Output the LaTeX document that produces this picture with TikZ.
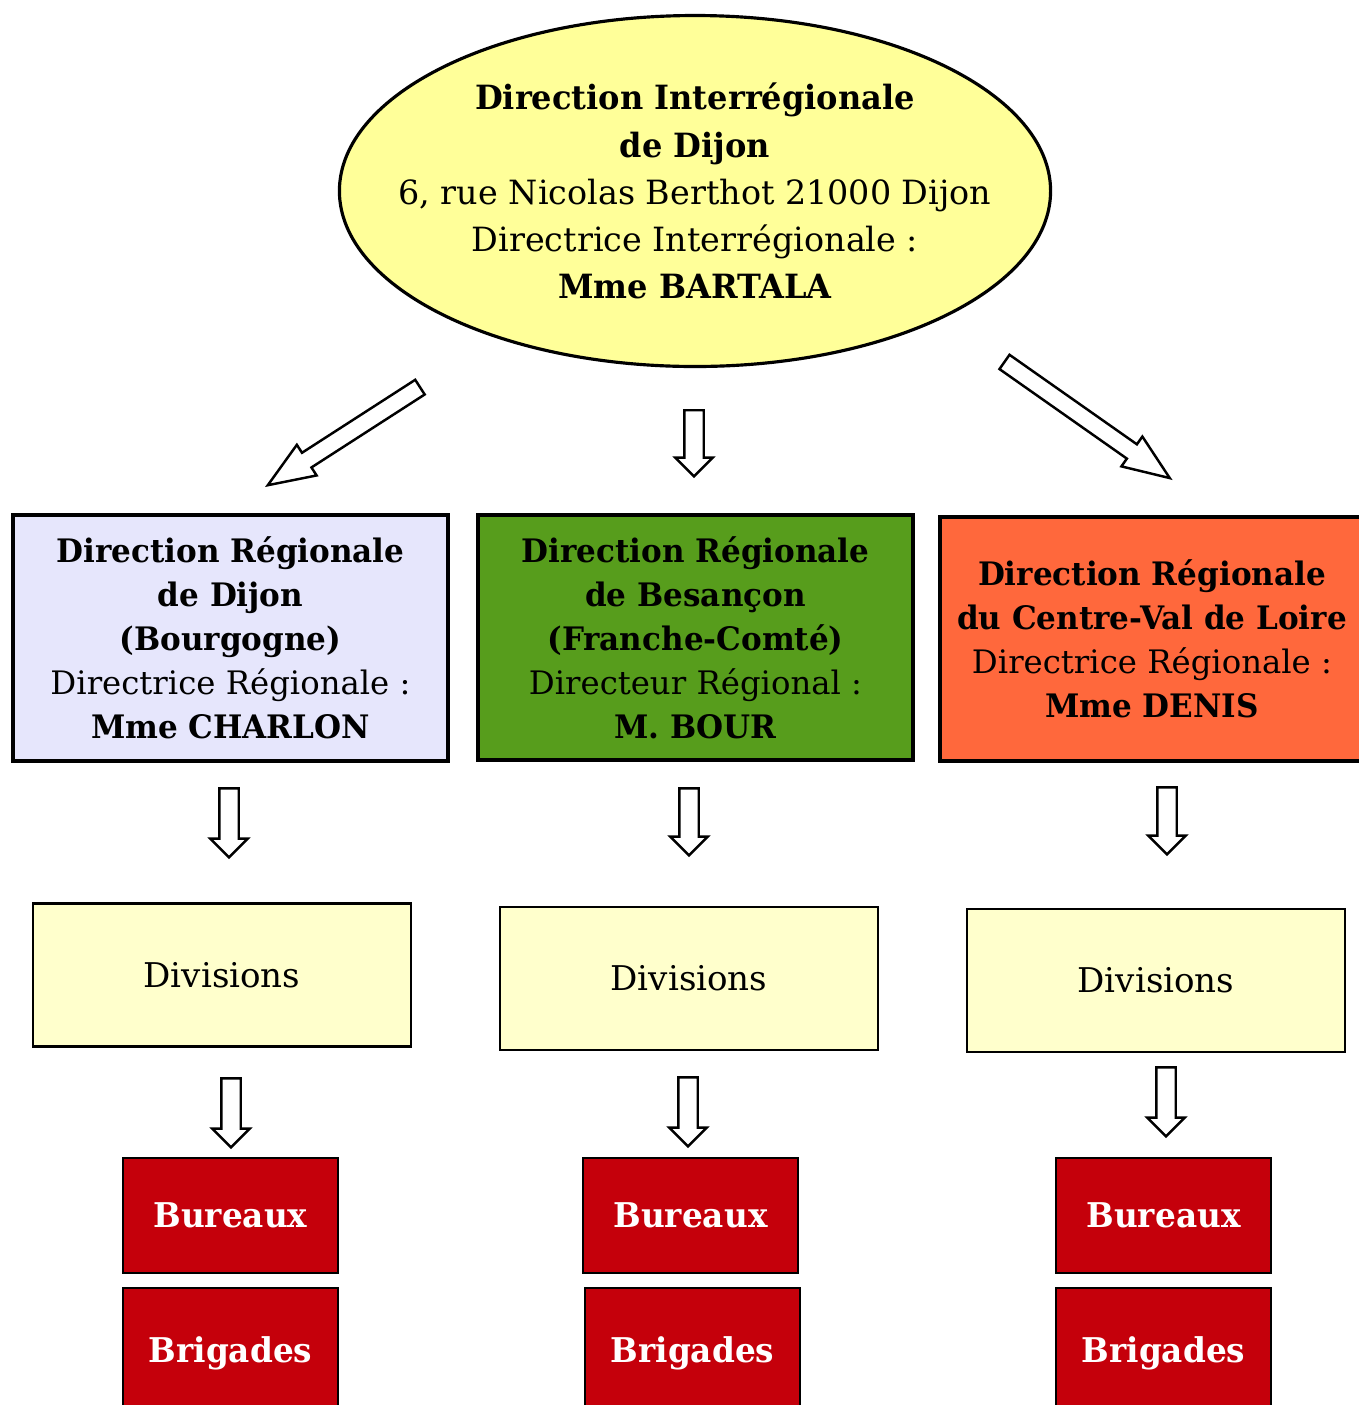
\documentclass[tikz,border=0pt]{standalone}
\usepackage{fontspec}
\setmainfont{DejaVu Serif}[BoldFeatures={FakeStretch=0.96}]
\usetikzlibrary{shapes.geometric,shapes.arrows}
\definecolor{lavande}{RGB}{230,230,252}
\definecolor{vertbox}{RGB}{87,157,28}
\definecolor{orangebox}{RGB}{255,104,60}
\definecolor{jaunepale}{RGB}{255,255,204}
\definecolor{jauneellipse}{RGB}{255,255,153}
\definecolor{rougebox}{RGB}{197,0,11}
\begin{document}
\begin{tikzpicture}[x=1cm,y=-1cm,
    dirbox/.style={draw,line width=0.9pt,align=center,inner sep=0pt,
      font=\fontsize{9.2}{12.5}\selectfont},
    divbox/.style={draw,line width=0.8pt,fill=jaunepale,inner sep=0pt,
      minimum width=3.78cm,minimum height=1.43cm,font=\fontsize{9.7}{12}\selectfont},
    redbox/.style={draw,line width=0.8pt,fill=rougebox,text=white,inner sep=0pt,
      minimum width=2.15cm,minimum height=1.15cm,font=\fontsize{9.7}{12}\selectfont\bfseries},
    fleche/.style={shape=single arrow,draw,line width=0.7pt,fill=white,anchor=tip,
      inner xsep=0pt,inner ysep=0.085cm,single arrow head extend=0.09cm},
    flechediag/.style={fleche,inner ysep=0.075cm,single arrow head extend=0.095cm,
      single arrow tip angle=43}]
  \useasboundingbox (0,0) rectangle (13.59,14.05);
  % direction interregionale
  \node [ellipse,draw,line width=0.9pt,fill=jauneellipse,inner xsep=-0.45cm,inner ysep=0.05cm,
    minimum width=7.10cm,minimum height=3.51cm,align=center,
    font=\fontsize{9.5}{13.4}\selectfont] (dirInter) at (6.95,1.91)
    {\textbf{Direction Interrégionale}\\ \textbf{de Dijon}\\
     6, rue Nicolas Berthot 21000 Dijon\\ Directrice Interrégionale :\\
     \textbf{Mme BARTALA}};
  % directions regionales
  \node [dirbox,fill=lavande,minimum width=4.35cm,minimum height=2.46cm] (drDijon) at (2.305,6.38)
    {\textbf{Direction Régionale}\\ \textbf{de Dijon}\\ \textbf{(Bourgogne)}\\
     Directrice Régionale :\\ \textbf{Mme CHARLON}};
  \node [dirbox,fill=vertbox,minimum width=4.35cm,minimum height=2.45cm] (drBesancon) at (6.955,6.375)
    {\textbf{Direction Régionale}\\ \textbf{de Besançon}\\ \textbf{(Franche-Comté)}\\
     Directeur Régional :\\ \textbf{M. BOUR}};
  \node [dirbox,fill=orangebox,minimum width=4.24cm,minimum height=2.44cm] (drCentre) at (11.52,6.39)
    {\textbf{Direction Régionale}\\ \textbf{du Centre-Val de Loire}\\
     Directrice Régionale :\\ \textbf{Mme DENIS}};
  % divisions
  \node [divbox] (divDijon) at (2.22,9.75) {Divisions};
  \node [divbox] (divBesancon) at (6.89,9.785) {Divisions};
  \node [divbox] (divCentre) at (11.56,9.805) {Divisions};
  % bureaux et brigades
  \node [redbox] (burDijon) at (2.305,12.155) {Bureaux};
  \node [redbox] (burBesancon) at (6.905,12.155) {Bureaux};
  \node [redbox] (burCentre) at (11.635,12.155) {Bureaux};
  \node [redbox,minimum height=1.30cm] (brigDijon) at (2.305,13.53) {Brigades};
  \node [redbox,minimum height=1.30cm] (brigBesancon) at (6.925,13.53) {Brigades};
  \node [redbox,minimum height=1.30cm] (brigCentre) at (11.635,13.53) {Brigades};
  % fleches
  \node [flechediag,minimum height=1.81cm,rotate=212.8] (flDijon) at (2.65,4.87) {};
  \node [fleche,minimum height=0.66cm,rotate=-90] (flBesancon) at (6.94,4.78) {};
  \node [flechediag,minimum height=2.02cm,rotate=-35.1] (flCentre) at (11.725,4.80) {};
  \node [fleche,minimum height=0.69cm,rotate=-90] (flDivDijon) at (2.29,8.59) {};
  \node [fleche,minimum height=0.67cm,rotate=-90] (flDivBesancon) at (6.89,8.57) {};
  \node [fleche,minimum height=0.67cm,rotate=-90] (flDivCentre) at (11.67,8.56) {};
  \node [fleche,minimum height=0.69cm,rotate=-90] (flBurDijon) at (2.31,11.49) {};
  \node [fleche,minimum height=0.69cm,rotate=-90] (flBurBesancon) at (6.88,11.48) {};
  \node [fleche,minimum height=0.69cm,rotate=-90] (flBurCentre) at (11.66,11.38) {};
\end{tikzpicture}
\end{document}
